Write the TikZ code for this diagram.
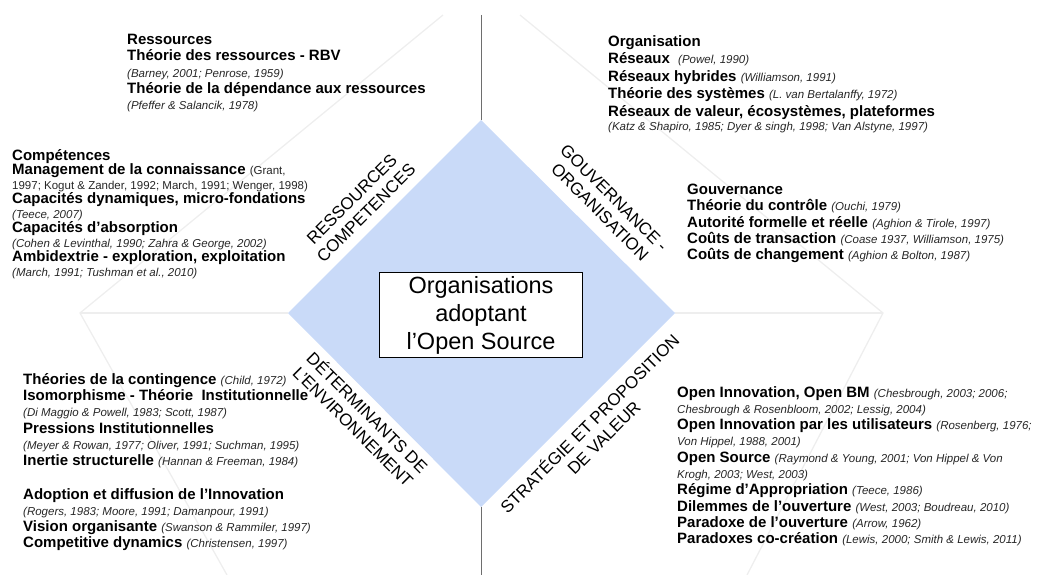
\documentclass[tikz,border=0pt]{standalone}
\usepackage{fontspec}
\setmainfont{Liberation Sans}
\definecolor{diamondblue}{HTML}{C9DAF8}
\definecolor{faintgray}{HTML}{EEEEEE}
\definecolor{axisgray}{HTML}{6E6E6E}
\definecolor{citegray}{HTML}{262626}
\newcommand{\cit}[1]{{\fontsize{11.5}{13}\selectfont\mdseries\itshape\color{citegray}#1}}
\newcommand{\citup}[1]{{\fontsize{11.5}{13}\selectfont\mdseries\color{citegray}#1}}
\tikzset{
  theme/.style={anchor=north west, inner sep=0pt, align=left,
    font=\fontsize{15}{16.3}\selectfont\bfseries},
  theme tight/.style={theme, font=\fontsize{15}{14.5}\selectfont\bfseries},
  theme wide/.style={theme, font=\fontsize{15}{17.5}\selectfont\bfseries},
  axis label/.style={inner sep=0pt, align=center,
    font=\fontsize{17}{20}\selectfont},
}
\begin{document}
\begin{tikzpicture}[x=1pt, y=-1pt]
      \useasboundingbox (0,0) rectangle (1037,575);
      % hexagon in the background
      \coordinate (hexTL) at (443,15);
      \coordinate (hexL) at (80,313);
      \coordinate (hexBL) at (227,575);
      \coordinate (hexTR) at (520,15);
      \coordinate (hexR) at (883,313);
      \coordinate (hexBR) at (747,575);
      % diamond
      \coordinate (dtop) at (481,120);
      \coordinate (dleft) at (288,313);
      \coordinate (dbottom) at (481,507);
      \coordinate (dright) at (675,313);
      \coordinate (axtop) at (481,15);
      \coordinate (axbottom) at (481,575);
      \begin{scope}[faintgray, line width=1.3pt]
        \draw (hexTL) -- (hexL) -- (hexBL);
        \draw (hexL) -- (dleft);
        \draw (hexTR) -- (hexR) -- (hexBR);
        \draw (hexR) -- (dright);
      \end{scope}
      \fill[diamondblue] (dtop) -- (dright) -- (dbottom) -- (dleft) -- cycle;
      \begin{scope}[axisgray, line width=1pt]
        \draw (axtop) -- (dtop);
        \draw (dbottom) -- (axbottom);
      \end{scope}
      \node[draw, fill=white, line width=0.8pt, minimum width=203pt,
        minimum height=85pt, align=center,
        font=\fontsize{23.5}{28}\selectfont] (core) at (481,315)
        {Organisations\\adoptant\\l’Open Source};
      % axis labels
      \node[axis label, rotate=45] (resLabel) at (359,206)
        {RESSOURCES\\COMPETENCES};
      \node[axis label, rotate=-45] (govLabel) at (607,205)
        {GOUVERNANCE -\\ORGANISATION};
      \node[axis label, rotate=-45] (envLabel) at (361,419)
        {DÉTERMINANTS DE\\L’ENVIRONNEMENT};
      \node[axis label, rotate=45] (valLabel) at (596,430)
        {STRATÉGIE ET PROPOSITION\\DE VALEUR};
      % theory blocks
      \node[theme] (ressources) at (127,34) {Ressources\\
        Théorie des ressources - RBV\\
        \cit{(Barney, 2001; Penrose, 1959)}\\
        Théorie de la dépendance aux ressources\\
        \cit{(Pfeffer \& Salancik, 1978)}};
      \node[theme tight] (competences) at (12,149) {Compétences\\
        Management de la connaissance \citup{(Grant,}\\
        \citup{1997; Kogut \& Zander, 1992; March, 1991; Wenger, 1998)}\\
        Capacités dynamiques, micro-fondations\\
        \cit{(Teece, 2007)}\\
        Capacités d’absorption\\
        \cit{(Cohen \& Levinthal, 1990; Zahra \& George, 2002)}\\
        Ambidextrie - exploration, exploitation\\
        \cit{(March, 1991; Tushman et al., 2010)}};
      \node[theme wide] (organisation) at (608,35) {Organisation\\
        Réseaux\ \ \cit{(Powel, 1990)}\\
        Réseaux hybrides \cit{(Williamson, 1991)}\\
        Théorie des systèmes \cit{(L. van Bertalanffy, 1972)}\\
        Réseaux de valeur, écosystèmes, plateformes\\[-3pt]
        \cit{(Katz \& Shapiro, 1985; Dyer \& singh, 1998; Van Alstyne, 1997)}};
      \node[theme] (gouvernance) at (687,184) {Gouvernance\\
        Théorie du contrôle \cit{(Ouchi, 1979)}\\
        Autorité formelle et réelle \cit{(Aghion \& Tirole, 1997)}\\
        Coûts de transaction \cit{(Coase 1937, Williamson, 1975)}\\
        Coûts de changement \cit{(Aghion \& Bolton, 1987)}};
      \node[theme] (environnement) at (23,373) {Théories de la contingence \cit{(Child, 1972)}\\
        Isomorphisme - Théorie\ \ Institutionnelle\\
        \cit{(Di Maggio \& Powell, 1983; Scott, 1987)}\\
        Pressions Institutionnelles\\
        \cit{(Meyer \& Rowan, 1977; Oliver, 1991; Suchman, 1995)}\\
        Inertie structurelle \cit{(Hannan \& Freeman, 1984)}\\[17pt]
        Adoption et diffusion de l’Innovation\\
        \cit{(Rogers, 1983; Moore, 1991; Damanpour, 1991)}\\
        Vision organisante \cit{(Swanson \& Rammiler, 1997)}\\
        Competitive dynamics \cit{(Christensen, 1997)}};
      \node[theme] (valeur) at (677,386) {Open Innovation, Open BM \cit{(Chesbrough, 2003; 2006;}\\
        \cit{Chesbrough \& Rosenbloom, 2002; Lessig, 2004)}\\
        Open Innovation par les utilisateurs \cit{(Rosenberg, 1976;}\\
        \cit{Von Hippel, 1988, 2001)}\\
        Open Source \cit{(Raymond \& Young, 2001; Von Hippel \& Von}\\
        \cit{Krogh, 2003; West, 2003)}\\
        Régime d’Appropriation \cit{(Teece, 1986)}\\
        Dilemmes de l’ouverture \cit{(West, 2003; Boudreau, 2010)}\\
        Paradoxe de l’ouverture \cit{(Arrow, 1962)}\\
        Paradoxes co-création \cit{(Lewis, 2000; Smith \& Lewis, 2011)}};
    \end{tikzpicture}
\end{document}
